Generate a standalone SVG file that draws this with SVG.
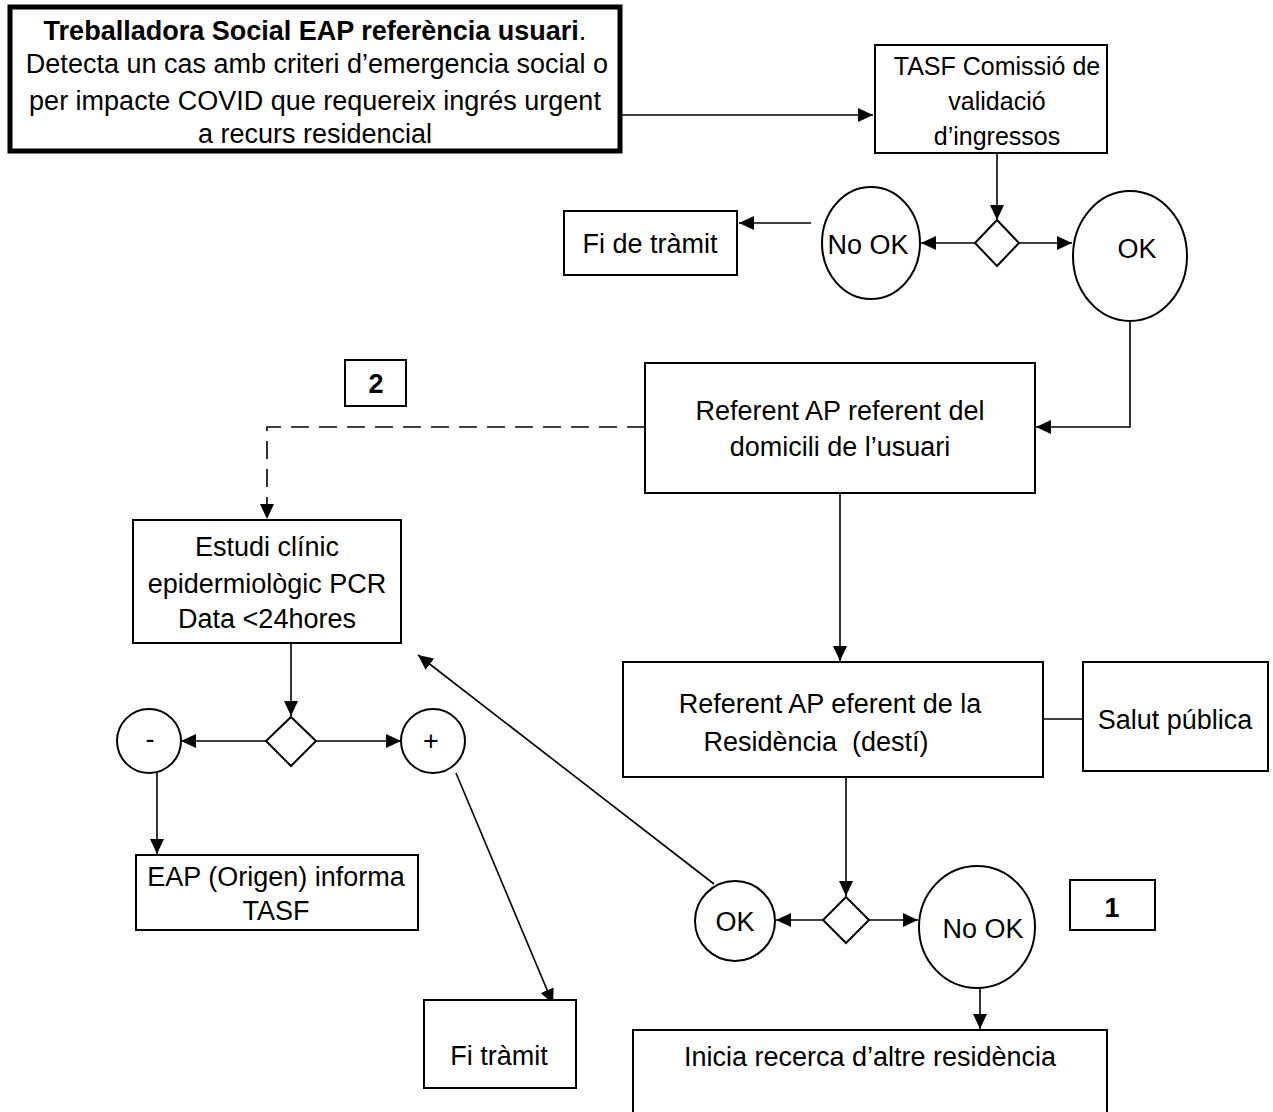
<svg xmlns="http://www.w3.org/2000/svg" width="1273" height="1112" viewBox="0 0 1273 1112">
<style>
.b{fill:#fff;stroke:#000;stroke-width:2}
.t{font-family:"Liberation Sans",Arial,sans-serif;font-size:27px;fill:#000;text-anchor:middle}
.s{font-size:25px}
.bd{font-weight:bold}
.c{fill:none;stroke:#000;stroke-width:1.6}
</style>
<defs>
<marker id="a" markerUnits="userSpaceOnUse" markerWidth="16" markerHeight="16" viewBox="0 0 16 16" refX="15" refY="8" orient="auto">
<path d="M0,1 L15,8 L0,15 Z" fill="#000"/>
</marker>
</defs>
<rect width="1273" height="1112" fill="#fff"/>
<g id="connectors">
<line class="c" x1="622" y1="115" x2="873" y2="115" marker-end="url(#a)"/>
<line class="c" x1="997" y1="153" x2="997" y2="220" marker-end="url(#a)"/>
<line class="c" x1="975" y1="243" x2="921" y2="243" marker-end="url(#a)"/>
<line class="c" x1="811" y1="223" x2="739" y2="223" marker-end="url(#a)"/>
<line class="c" x1="1019" y1="243" x2="1072" y2="243" marker-end="url(#a)"/>
<polyline class="c" points="1130,320 1130,427 1036,427" marker-end="url(#a)"/>
<polyline class="c" points="645,427 267,427 267,519" stroke-dasharray="18,10" marker-end="url(#a)"/>
<line class="c" x1="840" y1="493" x2="840" y2="661" marker-end="url(#a)"/>
<line class="c" x1="1043" y1="719" x2="1083" y2="719"/>
<line class="c" x1="846" y1="777" x2="846" y2="896" marker-end="url(#a)"/>
<line class="c" x1="823" y1="920" x2="776" y2="920" marker-end="url(#a)"/>
<line class="c" x1="869" y1="920" x2="918" y2="920" marker-end="url(#a)"/>
<line class="c" x1="980" y1="988" x2="980" y2="1029" marker-end="url(#a)"/>
<line class="c" x1="714" y1="884" x2="418" y2="655" marker-end="url(#a)"/>
<line class="c" x1="291" y1="643" x2="291" y2="716" marker-end="url(#a)"/>
<line class="c" x1="266" y1="741" x2="181" y2="741" marker-end="url(#a)"/>
<line class="c" x1="316" y1="741" x2="401" y2="741" marker-end="url(#a)"/>
<line class="c" x1="157" y1="773" x2="157" y2="854" marker-end="url(#a)"/>
<line class="c" x1="456" y1="773" x2="553" y2="1004" marker-end="url(#a)"/>
</g>
<g id="n-start">
<rect x="10" y="7" width="610" height="144" fill="#fff" stroke="#000" stroke-width="5"/>
<text class="t" x="315" y="40"><tspan class="bd">Treballadora Social EAP referència usuari</tspan>.</text>
<text class="t" x="317" y="73">Detecta un cas amb criteri d’emergencia social o</text>
<text class="t" x="315" y="110">per impacte COVID que requereix ingrés urgent</text>
<text class="t" x="315" y="143">a recurs residencial</text>
</g>
<g id="n-tasf">
<rect class="b" x="875" y="45" width="232" height="108"/>
<text class="t s" x="997" y="75">TASF Comissió de</text>
<text class="t s" x="997" y="110">validació</text>
<text class="t s" x="997" y="145">d’ingressos</text>
</g>
<g id="n-d1"><polygon class="b" points="997,220 1019,243 997,266 975,243"/></g>
<g id="n-nook1">
<ellipse class="b" cx="871" cy="243" rx="49" ry="56"/>
<text class="t" x="868" y="254">No OK</text>
</g>
<g id="n-fi1">
<rect class="b" x="564" y="211" width="173" height="64"/>
<text class="t" x="650" y="253">Fi de tràmit</text>
</g>
<g id="n-ok1">
<ellipse class="b" cx="1130" cy="256" rx="57" ry="65"/>
<text class="t" x="1137" y="258">OK</text>
</g>
<g id="n-ref">
<rect class="b" x="645" y="363" width="390" height="130"/>
<text class="t" x="840" y="420">Referent AP referent del</text>
<text class="t" x="840" y="456">domicili de l’usuari</text>
</g>
<g id="n-2">
<rect class="b" x="345" y="360" width="61" height="46"/>
<text class="t bd" x="376" y="393">2</text>
</g>
<g id="n-estudi">
<rect class="b" x="133" y="520" width="268" height="123"/>
<text class="t" x="267" y="556">Estudi clínic</text>
<text class="t" x="267" y="593">epidermiològic PCR</text>
<text class="t" x="267" y="628">Data &lt;24hores</text>
</g>
<g id="n-efer">
<rect class="b" x="623" y="662" width="420" height="115"/>
<text class="t" x="830" y="713">Referent AP eferent de la</text>
<text class="t" x="816" y="751" xml:space="preserve">Residència  (destí)</text>
</g>
<g id="n-salut">
<rect class="b" x="1083" y="662" width="185" height="109"/>
<text class="t" x="1175" y="729">Salut pública</text>
</g>
<g id="n-d2"><polygon class="b" points="846,897 869,920 846,943 823,920"/></g>
<g id="n-ok2">
<circle class="b" cx="735" cy="921" r="40"/>
<text class="t" x="735" y="931">OK</text>
</g>
<g id="n-nook2">
<ellipse class="b" cx="977" cy="927" rx="58" ry="61"/>
<text class="t" x="983" y="938">No OK</text>
</g>
<g id="n-1">
<rect class="b" x="1070" y="880" width="85" height="50"/>
<text class="t bd" x="1112" y="917">1</text>
</g>
<g id="n-inicia">
<rect class="b" x="633" y="1030" width="474" height="90"/>
<text class="t" x="870" y="1066">Inicia recerca d’altre residència</text>
</g>
<g id="n-d3"><polygon class="b" points="291,717 316,741 291,766 266,741"/></g>
<g id="n-minus">
<circle class="b" cx="149" cy="741" r="32"/>
<text class="t" x="150" y="748">-</text>
</g>
<g id="n-plus">
<circle class="b" cx="433" cy="741" r="32"/>
<text class="t" x="431" y="750">+</text>
</g>
<g id="n-eap">
<rect class="b" x="136" y="855" width="282" height="75"/>
<text class="t" x="276" y="886">EAP (Origen) informa</text>
<text class="t" x="276" y="920">TASF</text>
</g>
<g id="n-fi2">
<rect class="b" x="424" y="1000" width="152" height="88"/>
<text class="t" x="499" y="1065">Fi tràmit</text>
</g>
</svg>
